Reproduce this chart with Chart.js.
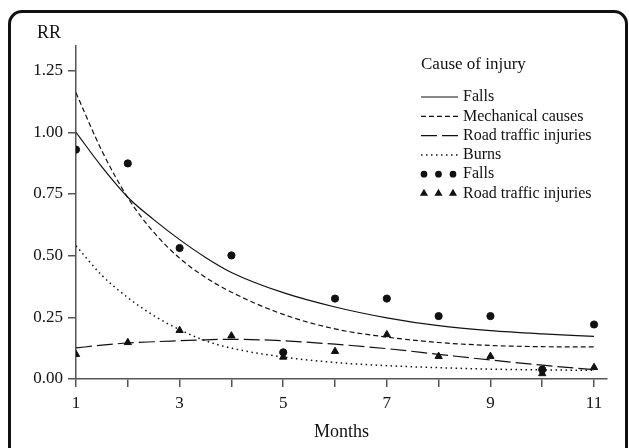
<!DOCTYPE html>
<html>
<head>
<meta charset="utf-8">
<script src="https://cdn.jsdelivr.net/npm/chart.js@4.4.1/dist/chart.umd.min.js"></script>
<style>
  html, body { margin: 0; padding: 0; background: #fff; overflow: hidden; }
  #wrap { position: relative; width: 629px; height: 448px; }
  #frame { position: absolute; left: 8px; top: 10px; width: 614px; height: 490px;
           border: 3px solid #111; border-radius: 14px; pointer-events: none; }
</style>
</head>
<body>
<div id="wrap">
  <canvas id="chart" width="629" height="448"></canvas>
  <div id="frame"></div>
</div>
<script>
// fitted curves
const curveMonths = [1, 1.5, 2, 2.5, 3, 3.5, 4, 5, 6, 7, 8, 9, 10, 11];
const fallsFit = [1.00, 0.86, 0.737, 0.646, 0.565, 0.493, 0.432, 0.35, 0.292, 0.248, 0.216, 0.196, 0.183, 0.173];
const mechanicalFit = [1.16, 0.925, 0.735, 0.595, 0.49, 0.412, 0.352, 0.262, 0.203, 0.17, 0.148, 0.136, 0.131, 0.13];
const roadFit = [0.126, 0.137, 0.146, 0.151, 0.155, 0.159, 0.161, 0.155, 0.141, 0.123, 0.10, 0.077, 0.056, 0.038];
const burnsFit = [0.54, 0.42, 0.33, 0.257, 0.2, 0.155, 0.125, 0.089, 0.067, 0.054, 0.046, 0.04, 0.037, 0.035];

// observed RR per month
const months = [1, 2, 3, 4, 5, 6, 7, 8, 9, 10, 11];
const fallsObs = [0.93, 0.874, 0.531, 0.501, 0.108, 0.326, 0.326, 0.255, 0.255, 0.038, 0.221];
const roadObs = [0.10, 0.148, 0.197, 0.175, 0.089, 0.112, 0.18, 0.092, 0.092, 0.022, 0.047];

// axis ticks
const monthTicks = [1, 2, 3, 4, 5, 6, 7, 8, 9, 10, 11];
const rrTicks = [0, 0.25, 0.5, 0.75, 1.0, 1.25];

const serif = '"Liberation Serif", "Times New Roman", serif';
const ink = '#111';
const axisGray = '#555';

const toPoints = (xs, ys) => xs.map((x, i) => ({ x: x, y: ys[i] }));

const curve = (label, ys, dash, width) => ({
  label: label,
  data: toPoints(curveMonths, ys),
  showLine: true,
  borderColor: ink,
  borderWidth: width || 1.2,
  borderDash: dash,
  cubicInterpolationMode: 'monotone',
  pointRadius: 0,
  fill: false,
  legendKind: 'line'
});

const markers = (label, ys, style, radius) => ({
  label: label,
  data: toPoints(months, ys),
  showLine: false,
  pointStyle: style,
  pointRadius: radius,
  backgroundColor: ink,
  borderColor: ink,
  borderWidth: 1,
  legendKind: 'marker'
});

const datasets = [
  curve('Falls', fallsFit, []),
  curve('Mechanical causes', mechanicalFit, [5, 3]),
  curve('Road traffic injuries', roadFit, [16, 5]),
  curve('Burns', burnsFit, [1.5, 3.5], 1.5),
  markers('Falls', fallsObs, 'circle', 3.6),
  markers('Road traffic injuries', roadObs, 'triangle', 4.2)
];

// legend block + "RR" label, drawn in the canvas
const causeLegend = {
  id: 'causeLegend',
  afterDraw(chart) {
    const ctx = chart.ctx;
    ctx.save();
    ctx.fillStyle = ink;
    ctx.textBaseline = 'middle';
    ctx.font = '18px ' + serif;
    ctx.fillText('RR', 37, 33);
    ctx.font = '17px ' + serif;
    ctx.fillText('Cause of injury', 421, 65);

    ctx.font = '16px ' + serif;
    chart.data.datasets.forEach((ds, i) => {
      const y = 97 + i * 19.3;
      ctx.strokeStyle = ink;
      ctx.fillStyle = ink;
      if (ds.legendKind === 'line') {
        ctx.lineWidth = ds.borderWidth;
        ctx.setLineDash(ds.borderDash);
        ctx.beginPath();
        ctx.moveTo(421, y);
        ctx.lineTo(458, y);
        ctx.stroke();
        ctx.setLineDash([]);
      } else {
        [424, 438.5, 453].forEach(x => {
          Chart.helpers.drawPoint(ctx, {
            pointStyle: ds.pointStyle,
            radius: ds.pointStyle === 'circle' ? 2.6 : 3.2,
            rotation: 0,
            borderWidth: 1
          }, x, y);
          ctx.fill();
        });
      }
      ctx.fillText(ds.label, 463, y);
    });
    ctx.restore();
  }
};

new Chart(document.getElementById('chart'), {
  type: 'scatter',
  data: { datasets: datasets },
  plugins: [causeLegend],
  options: {
    responsive: false,
    animation: false,
    events: [],
    layout: { padding: { left: 0, top: 46, right: 22, bottom: 0 } },
    plugins: {
      legend: { display: false },
      tooltip: { enabled: false }
    },
    elements: { line: { clip: false } },
    scales: {
      x: {
        type: 'linear',
        min: 1,
        max: 11.25,
        afterBuildTicks: (scale) => { scale.ticks = monthTicks.map(v => ({ value: v })); },
        afterFit: (scale) => { scale.height = 69; },
        ticks: {
          autoSkip: false,
          maxRotation: 0,
          padding: 6,
          color: ink,
          font: { family: serif, size: 17 },
          callback: (v) => (v % 2 === 1 ? String(v) : '')
        },
        grid: { drawOnChartArea: false, drawTicks: true, tickLength: 8, color: axisGray, lineWidth: 1.5 },
        border: { color: axisGray, width: 1.5 },
        title: {
          display: true,
          text: 'Months',
          color: ink,
          font: { family: serif, size: 18 },
          padding: { top: 0, bottom: 5 }
        }
      },
      y: {
        min: 0,
        max: 1.35,
        afterBuildTicks: (scale) => { scale.ticks = rrTicks.map(v => ({ value: v })); },
        afterFit: (scale) => { scale.width = 76; },
        ticks: {
          padding: 5,
          color: ink,
          font: { family: serif, size: 17 },
          callback: (v) => v.toFixed(2)
        },
        grid: { drawOnChartArea: false, drawTicks: true, tickLength: 8, color: axisGray, lineWidth: 1.5 },
        border: { color: axisGray, width: 1.5 }
      }
    }
  }
});
</script>
</body>
</html>
